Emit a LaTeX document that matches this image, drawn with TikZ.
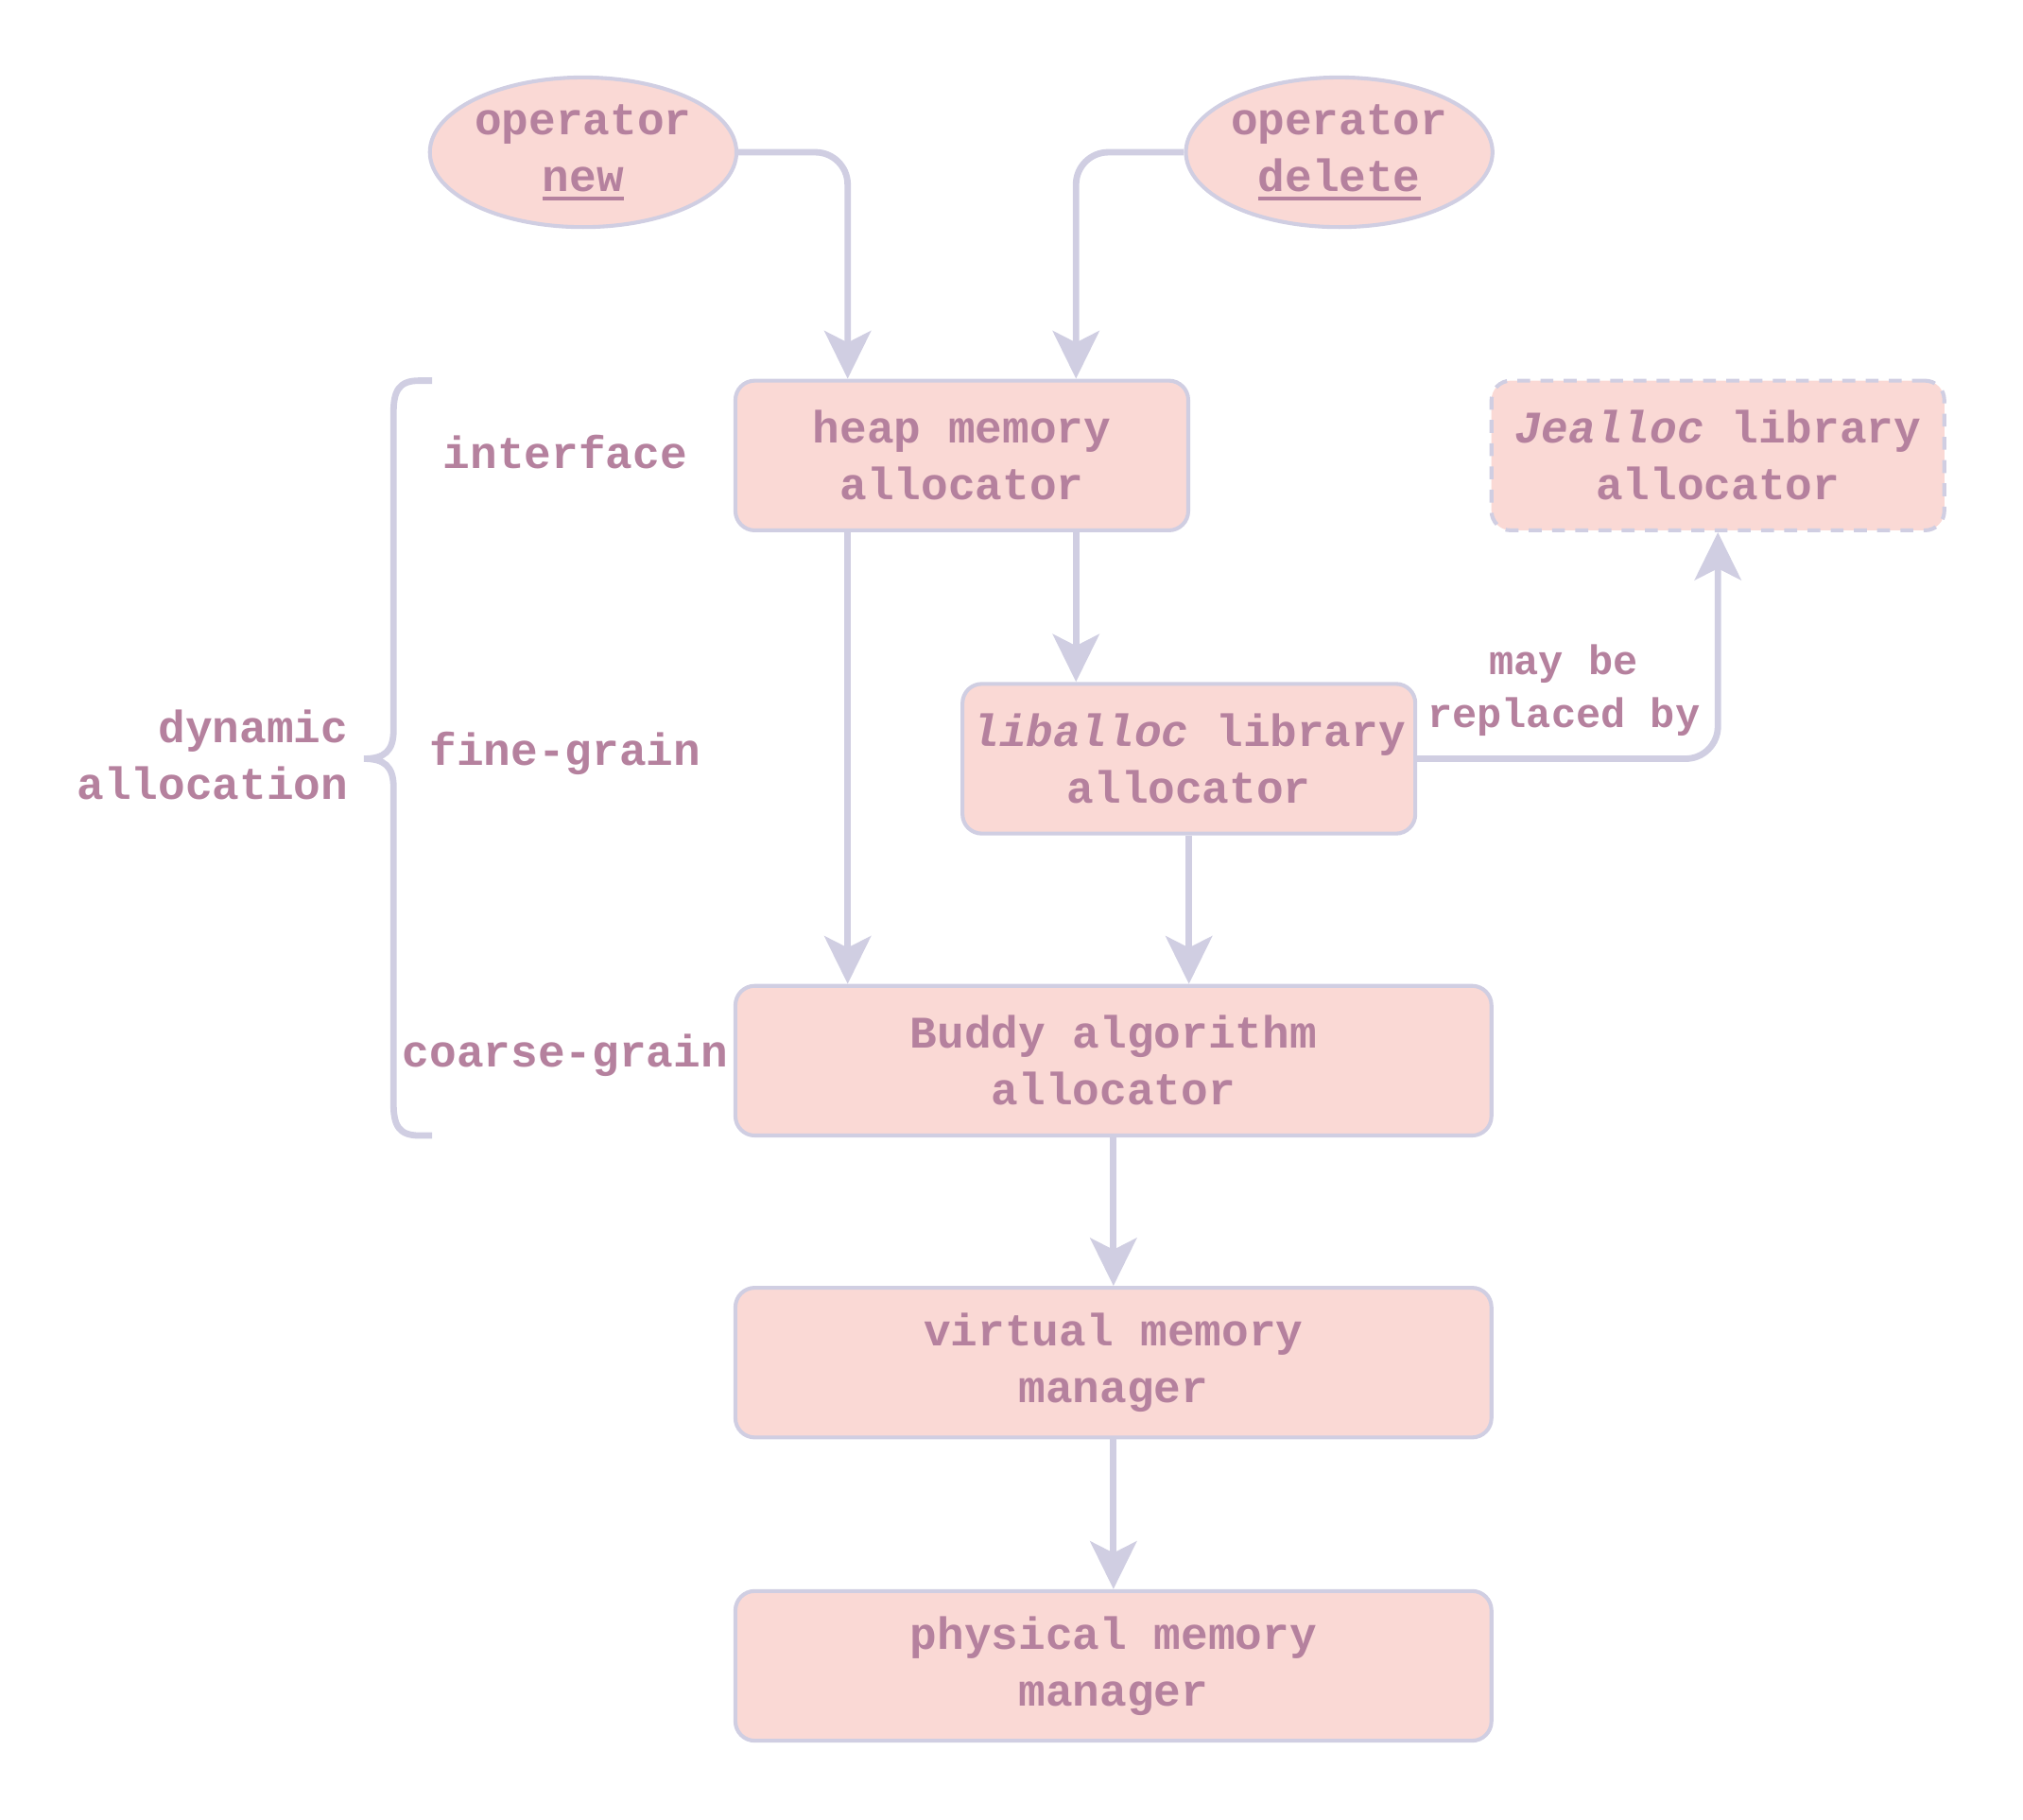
\documentclass[tikz,border=0pt]{standalone}
\usepackage{fontspec}
\setmonofont{Liberation Mono}
\setmainfont{Liberation Mono}
\usetikzlibrary{arrows.meta,shapes.geometric,calc}
\definecolor{txt}{RGB}{181,129,158}
\definecolor{fillc}{RGB}{250,217,213}
\definecolor{strk}{RGB}{208,206,226}
\newcommand\myul[1]{\setbox0\hbox{#1}\rlap{\color{txt}\rule[-7pt]{\wd0}{3pt}}\box0}
\tikzset{
  base/.style={font=\fontsize{35}{44}\selectfont\bfseries, text=txt, align=center, inner sep=0pt},
  boxnode/.style={base, draw=strk, fill=fillc, line width=3pt, rounded corners=15pt, minimum height=116pt},
  ellnode/.style={base, ellipse, draw=strk, fill=fillc, line width=3pt, minimum width=234pt, minimum height=116pt},
  lbl/.style={base},
  conn/.style={draw=strk, line width=5pt, rounded corners=25pt, -{Stealth[length=37pt,width=36pt,inset=9pt]}},
  bracestyle/.style={draw=strk, line width=5pt}
}
\begin{document}
\begin{tikzpicture}[x=1pt,y=-1pt]
\useasboundingbox (0,0) rectangle (1568,1410);
\node[ellnode] (new) at (452,118) {operator\\\myul{new}};
\node[ellnode] (del) at (1038,118) {operator\\\myul{delete}};
\node[boxnode, minimum width=351pt] (heap) at (745.5,353) {heap memory\\allocator};
\node[boxnode, minimum width=351pt, dash pattern=on 10pt off 8pt] (jeal) at (1331.5,353) {\textit{Jealloc} library\\allocator};
\node[boxnode, minimum width=351pt] (lib) at (921.5,588) {\textit{liballoc} library\\allocator};
\node[boxnode, minimum width=586pt] (buddy) at (863,822) {Buddy algorithm\\allocator};
\node[boxnode, minimum width=586pt] (virt) at (863,1056) {virtual memory\\manager};
\node[boxnode, minimum width=586pt] (phys) at (863,1291) {physical memory\\manager};

\node[lbl] (iface) at (438,350) {interface};
\node[lbl] (fine) at (438,584) {fine-grain};
\node[lbl] (coarse) at (438,818) {coarse-grain};
\node[lbl, anchor=east, align=right] (dyn) at (270,585) {dynamic\\allocation};
\node[lbl, font=\fontsize{32}{41}\selectfont\bfseries] (may) at (1212,535) {may be\\replaced by};

\coordinate (hn1) at ($(heap.north west)!0.25!(heap.north east)$);
\coordinate (hn2) at ($(heap.north west)!0.75!(heap.north east)$);
\coordinate (hs1) at ($(heap.south west)!0.25!(heap.south east)$);
\coordinate (hs2) at ($(heap.south west)!0.75!(heap.south east)$);

\draw[conn] (new.east) -| (hn1);
\draw[conn] (del.west) -| (hn2);
\draw[conn] (hs1) -- (hs1 |- buddy.north);
\draw[conn] (hs2) -- (hs2 |- lib.north);
\draw[conn] (lib.south) -- (lib.south |- buddy.north);
\draw[conn] (lib.east) -| (jeal.south);
\draw[conn] (buddy.south) -- (virt.north);
\draw[conn] (virt.south) -- (phys.north);

\draw[bracestyle] (335,295) -- (325,295) .. controls (309,295) and (305,303) .. (305,320) -- (305,566) .. controls (305,582) and (298,588) .. (282,588) .. controls (298,588) and (305,594) .. (305,610) -- (305,855) .. controls (305,872) and (309,880) .. (325,880) -- (335,880);
\end{tikzpicture}
\end{document}
